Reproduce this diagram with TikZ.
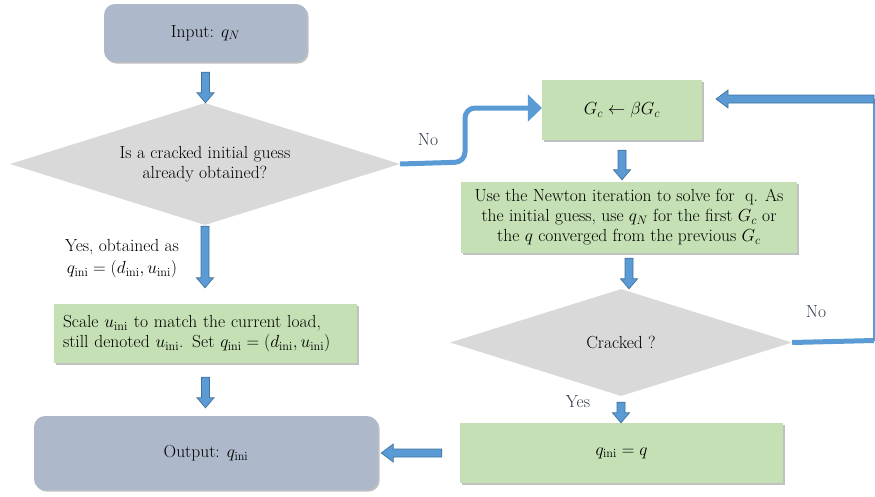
\RequirePackage{fix-cm}
\documentclass[tikz,border=0pt]{standalone}
\usepackage{amsmath}
\usetikzlibrary{shapes.geometric,calc,shadows,arrows.meta}
\definecolor{greyblue}{HTML}{ADB9CA}
\definecolor{dgrey}{HTML}{D9D9D9}
\definecolor{lgreen}{HTML}{C5E0B4}
\definecolor{afill}{HTML}{5B9BD5}
\definecolor{aline}{HTML}{41719C}
\definecolor{lbl}{HTML}{2E3A4C}
\tikzset{
  txt/.style={font=\fontsize{17.5}{20}\selectfont},
  shad/.style={drop shadow={shadow xshift=1.6pt,shadow yshift=-1.6pt,opacity=0.35,fill=black!70}},
  iobox/.style={txt,rectangle,rounded corners=11pt,fill=greyblue,shad,inner sep=0pt},
  procbox/.style={txt,rectangle,fill=lgreen,shad,inner sep=0pt},
  decision/.style={txt,diamond,fill=dgrey,inner sep=0pt,aspect=3.2},
  lab/.style={txt,text=lbl},
  blockarrow/.style={fill=afill,draw=aline,line width=0.7pt,line join=miter},
  flow/.style={draw=afill,line width=5pt},
}
\newcommand{\vblock}[2]{%
  \draw[blockarrow] let \p1=#1, \p2=#2 in
    (\x1-4pt,\y1) -- (\x1-4pt,\y2+10pt) -- (\x1-8.5pt,\y2+10pt) -- (\x1,\y2)
    -- (\x1+8.5pt,\y2+10pt) -- (\x1+4pt,\y2+10pt) -- (\x1+4pt,\y1) -- cycle;}
\newcommand{\hblock}[2]{%
  \draw[blockarrow] let \p1=#1, \p2=#2 in
    (\x1,\y2+4pt) -- (\x2+12pt,\y2+4pt) -- (\x2+12pt,\y2+9pt) -- (\x2,\y2)
    -- (\x2+12pt,\y2-9pt) -- (\x2+12pt,\y2-4pt) -- (\x1,\y2-4pt) -- cycle;}
\begin{document}
\begin{tikzpicture}[x=1pt,y=-1pt]
\useasboundingbox (0,0) rectangle (875,496);
% nodes
\node[iobox,minimum width=203pt,minimum height=58pt] (in) at (205.5,33) {Input: $q_N$};
\node[decision,minimum width=390pt,minimum height=122pt,align=center] (d1) at (205,164)
  {Is a cracked initial guess\\ already obtained?};
\node[txt,align=center] (yes1) at (122,259) {Yes, obtained as\\[2pt] $q_{\mathrm{ini}}=(d_{\mathrm{ini}},u_{\mathrm{ini}})$};
\node[procbox,minimum width=303pt,minimum height=59pt,align=left,text width=285pt] (scale) at (205.5,333.5)
  {Scale $u_{\mathrm{ini}}$ to match the current load,\\ still denoted $u_{\mathrm{ini}}$. Set $q_{\mathrm{ini}}=(d_{\mathrm{ini}},u_{\mathrm{ini}})$};
\node[iobox,minimum width=344pt,minimum height=74pt] (out) at (206,453) {Output: $q_{\mathrm{ini}}$};
\node[procbox,minimum width=160pt,minimum height=60pt] (gc) at (622,110) {$G_c \leftarrow \beta G_c$};
\node[procbox,minimum width=336pt,minimum height=71pt,align=center] (newton) at (629,217.5)
  {Use the Newton iteration to solve for \ q. As\\ the initial guess, use $q_N$ for the first $G_c$ or\\ the $q$ converged from the previous $G_c$};
\node[decision,minimum width=342pt,minimum height=107pt] (d2) at (621,342.5) {Cracked ?};
\node[procbox,minimum width=323pt,minimum height=60pt] (qbox) at (621.5,453) {$q_{\mathrm{ini}} = q$};
\node[lab] (no1) at (428,140) {No};
\node[lab] (no2) at (816,312) {No};
\node[lab] (yes2) at (578,402) {Yes};
\coordinate (c1) at (874,340.5);
\coordinate (c2) at (874,99);
% block arrows
\vblock{($(in.south)+(0,10)$)}{(d1.north)}
\vblock{($(d1.south)+(0,1)$)}{($(scale.north)+(0,-16)$)}
\vblock{($(scale.south)+(0,14)$)}{($(out.north)+(0,-8)$)}
\vblock{($(gc.south)+(0,10)$)}{($(newton.north)+(0,-2)$)}
\vblock{($(newton.south)+(0,5)$)}{(d2.north)}
\vblock{($(d2.south)+(0,6)$)}{(qbox.north)}
\hblock{($(qbox.west)+(-18,0)$)}{($(out.east)+(3,0)$)}
% No loop from first decision
\draw[flow,rounded corners=10pt,-{Triangle[width=27pt,length=14pt]}]
  (d1.east) -- (465,162) -- (465,108) -- (gc.west |- 0,108);
% No loop from second decision
\draw[flow] (d2.east) -- (c1);
\draw[draw=afill,line width=1.5pt] (c1) -- (c2);
\hblock{(c2)}{(716,99)}
\end{tikzpicture}
\end{document}
